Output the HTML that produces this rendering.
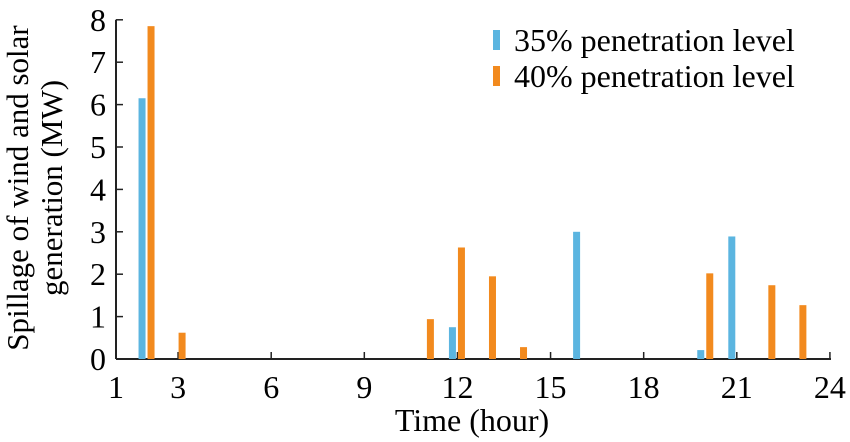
<!DOCTYPE html>
<html><head><meta charset="utf-8"><style>
html,body{margin:0;padding:0;background:#fff;}
svg{display:block;font-family:"Liberation Serif",serif;}
</style></head><body>
<svg id="chart" width="850" height="442" viewBox="0 0 850 442">
<g id="axes"></g><g id="bars"></g>
<text x="472" y="431" font-size="32" text-anchor="middle">Time (hour)</text>
<text transform="translate(28,188) rotate(-90)" font-size="31" text-anchor="middle">Spillage of wind and solar</text>
<text transform="translate(62,188) rotate(-90)" font-size="31" text-anchor="middle">generation (MW)</text>
<g>
<rect x="493" y="30" width="7" height="20" fill="#5bb5e0"/>
<text x="514" y="51" font-size="32">35% penetration level</text>
<rect x="493" y="66" width="7" height="20" fill="#f28a1e"/>
<text x="514" y="87" font-size="32">40% penetration level</text>
</g>
</svg>
<script>
const xTicks=[1,3,6,9,12,15,18,21,24];
const yTicks=[0,1,2,3,4,5,6,7,8];
const hours35=[2,12,16,20,21];
const values35=[6.15,0.75,3.0,0.21,2.89];
const hours40=[2,3,11,12,13,14,20,22,23];
const values40=[7.85,0.62,0.94,2.63,1.95,0.28,2.02,1.74,1.27];
const NS="http://www.w3.org/2000/svg";
const X=h=>116+(h-1)*31.04;
const Y=v=>359-v*42.4;
const axes=document.getElementById('axes'),bars=document.getElementById('bars');
function mk(tag,attrs,parent){const e=document.createElementNS(NS,tag);for(const k in attrs)e.setAttribute(k,attrs[k]);parent.appendChild(e);return e;}
let l=mk('line',{x1:116,y1:Y(0),x2:831,y2:Y(0),stroke:'#222','stroke-width':2},axes);


l=mk('line',{x1:116,y1:Y(0),x2:116,y2:Y(8),stroke:'#222','stroke-width':2},axes);


xTicks.forEach(t=>{
 const tk=mk('line',{x1:X(t),y1:Y(0),x2:X(t),y2:Y(0)-7,stroke:'#222','stroke-width':1.5},axes);
 
 
 const tx=mk('text',{x:X(t),y:398,'font-size':32,'text-anchor':'middle'},axes);
 tx.textContent=t;
 
 
});
yTicks.forEach(t=>{
 const tk=mk('line',{x1:116,y1:Y(t),x2:123,y2:Y(t),stroke:'#222','stroke-width':1.5},axes);
 
 
 const tx=mk('text',{x:106,y:Y(t)+11,'font-size':32,'text-anchor':'end'},axes);
 tx.textContent=t;
 
 
});
hours35.forEach((h,i)=>{
 const r=mk('rect',{x:X(h)-8.5,y:Y(values35[i]),width:7,height:Y(0)-Y(values35[i]),fill:'#5bb5e0'},bars);
 
 
});
hours40.forEach((h,i)=>{
 const r=mk('rect',{x:X(h)+0.5,y:Y(values40[i]),width:7,height:Y(0)-Y(values40[i]),fill:'#f28a1e'},bars);
 
 
});
</script>
</body></html>
